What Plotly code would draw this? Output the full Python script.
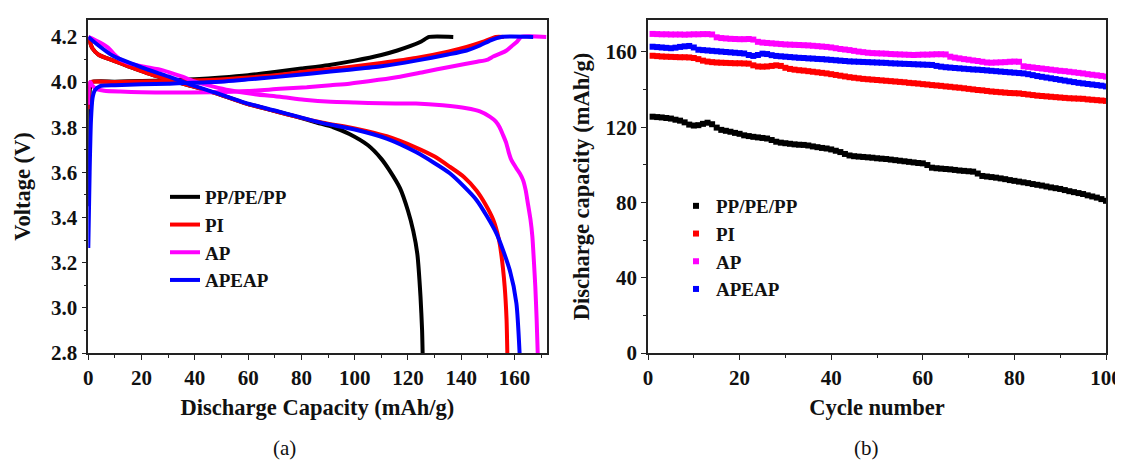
import plotly.graph_objects as go

# ---- (a) charge / discharge curves ----
# PP/PE/PP
pp_chg_cap = [0, 0.3, 0.6, 1.2, 10, 20, 30, 40, 50, 60, 70, 80, 90, 100, 110, 116, 121, 125, 128, 137]
pp_chg_v = [3.45, 3.85, 3.97, 4.0, 4.002, 4.005, 4.008, 4.013, 4.02, 4.03, 4.045, 4.06, 4.075, 4.095, 4.12, 4.14, 4.16, 4.18, 4.2, 4.2]
pp_dis_cap = [0, 0.5, 1.5, 4, 9.4, 15, 22, 30, 38, 48, 59, 70, 78, 86, 92, 98, 105, 110, 113, 117, 120, 122, 123.5, 124.7, 125.3, 125.5]
pp_dis_v = [4.2, 4.18, 4.15, 4.12, 4.095, 4.07, 4.04, 4.012, 3.985, 3.95, 3.906, 3.872, 3.847, 3.82, 3.80, 3.77, 3.72, 3.66, 3.61, 3.53, 3.43, 3.34, 3.24, 3.05, 2.90, 2.80]

# PI
pi_chg_cap = [0, 0.3, 0.8, 10, 30, 47, 60, 70, 84, 98, 110, 123, 135, 142, 148, 153, 156]
pi_chg_v = [3.88, 3.98, 4.0, 4.0, 4.005, 4.01, 4.02, 4.03, 4.05, 4.067, 4.085, 4.107, 4.135, 4.156, 4.178, 4.2, 4.2]
pi_dis_cap = [0, 0.5, 1.5, 4, 9.4, 15, 22, 30, 38, 48, 59, 70, 78, 88, 100, 112, 123, 130, 135.7, 141, 145.7, 149, 152, 154, 155, 156.3, 157, 157.3]
pi_dis_v = [4.2, 4.18, 4.15, 4.12, 4.095, 4.07, 4.04, 4.012, 3.985, 3.95, 3.906, 3.872, 3.847, 3.82, 3.795, 3.76, 3.71, 3.67, 3.625, 3.58, 3.52, 3.46, 3.39, 3.31, 3.24, 3.094, 2.95, 2.80]

# AP
ap_chg_cap = [0, 0.3, 0.8, 1.5, 3, 6, 12, 20, 30, 47, 60, 72, 82, 91, 98, 109, 117, 126, 136, 146, 150, 152, 155, 157, 159, 161, 162.5, 172]
ap_chg_v = [3.90, 3.99, 4.0, 3.985, 3.97, 3.962, 3.958, 3.955, 3.954, 3.955, 3.96, 3.97, 3.977, 3.986, 3.993, 4.01, 4.024, 4.045, 4.068, 4.09, 4.1, 4.113, 4.128, 4.14, 4.16, 4.18, 4.2, 4.2]
ap_dis_cap = [0, 2, 4.4, 6.5, 8.1, 10, 12, 15.6, 20, 28, 35, 40.6, 47, 53, 62, 72, 81, 91, 100, 110, 123, 133, 142, 147, 150.7, 153, 154.4, 155.7, 156.9, 157.8, 158.8, 160.7, 162, 163.2, 164.2, 165, 166, 166.7, 167.3, 167.8, 168.3, 168.7]
ap_dis_v = [4.2, 4.19, 4.175, 4.16, 4.145, 4.12, 4.10, 4.083, 4.07, 4.052, 4.025, 4.0, 3.98, 3.964, 3.947, 3.935, 3.922, 3.913, 3.91, 3.906, 3.905, 3.897, 3.884, 3.87, 3.847, 3.825, 3.80, 3.765, 3.73, 3.69, 3.655, 3.618, 3.595, 3.566, 3.52, 3.463, 3.39, 3.315, 3.2, 3.094, 2.95, 2.80]

# APEAP
apeap_chg_cap = [0, 0.5, 1.0, 1.6, 2.5, 4.4, 10, 20, 30, 47, 60, 70, 84, 98, 110, 123, 135, 142, 147, 151, 155, 167]
apeap_chg_v = [3.265, 3.6, 3.83, 3.93, 3.964, 3.982, 3.986, 3.99, 3.993, 4.0, 4.012, 4.022, 4.038, 4.055, 4.07, 4.095, 4.122, 4.14, 4.162, 4.185, 4.2, 4.2]
apeap_dis_cap = [0, 3, 9.4, 20, 30, 38, 48, 59, 70, 78, 88, 100, 112, 123, 135.7, 145.7, 153.2, 158.2, 160.7, 161.9]
apeap_dis_v = [4.2, 4.17, 4.115, 4.065, 4.025, 3.99, 3.952, 3.908, 3.874, 3.849, 3.818, 3.79, 3.75, 3.69, 3.596, 3.478, 3.33, 3.167, 3.02, 2.80]

# ---- (b) cycling ----
cycles = list(range(1, 101))
pp_cyc = [125.6, 125.4, 125.2, 124.9, 124.6, 124.0, 123.5, 122.6, 121.4, 120.9,
          121.1, 121.8, 122.4, 121.6, 119.8, 118.6, 118.1, 117.6, 117.0, 116.5,
          115.7, 115.3, 114.9, 114.6, 114.3, 114.0, 113.2, 112.3, 111.8, 111.5,
          111.2, 110.9, 110.7, 110.6, 110.3, 109.8, 109.4, 109.0, 108.7, 108.2,
          107.5, 106.8, 105.8, 105.0, 104.6, 104.4, 104.2, 104.0, 103.8, 103.5,
          103.3, 103.1, 102.8, 102.5, 102.2, 101.9, 101.6, 101.3, 101.0, 100.8,
          99.9, 98.5, 98.2, 98.0, 97.8, 97.6, 97.3, 97.0, 96.8, 96.6,
          96.4, 95.4, 94.1, 93.8, 93.5, 93.2, 92.8, 92.4, 91.9, 91.5,
          91.1, 90.7, 90.3, 89.8, 89.4, 89.0, 88.5, 88.0, 87.6, 87.2,
          86.6, 86.0, 85.5, 85.0, 84.5, 83.8, 83.2, 82.6, 81.8, 80.9]
pi_cyc = [158.0, 157.8, 157.6, 157.5, 157.4, 157.3, 157.2, 157.2, 157.1, 156.8,
          156.2, 155.4, 154.9, 154.6, 154.4, 154.3, 154.2, 154.1, 154.0, 154.0,
          153.9, 153.8, 152.9, 152.3, 152.2, 152.3, 152.6, 152.9, 152.6, 151.6,
          151.0, 150.6, 150.3, 150.1, 149.8, 149.5, 149.2, 148.9, 148.6, 148.2,
          147.8, 147.4, 147.0, 146.6, 146.3, 146.0, 145.7, 145.5, 145.3, 145.1,
          144.9, 144.7, 144.5, 144.3, 144.1, 143.9, 143.6, 143.4, 143.2, 142.9,
          142.7, 142.4, 142.2, 142.0, 141.7, 141.5, 141.2, 141.0, 140.7, 140.4,
          140.1, 139.8, 139.6, 139.3, 139.0, 138.8, 138.6, 138.4, 138.2, 138.1,
          138.0, 137.7, 137.4, 137.1, 136.8, 136.6, 136.4, 136.2, 136.0, 135.8,
          135.6, 135.4, 135.3, 135.2, 135.1, 134.8, 134.6, 134.4, 134.2, 134.0]
ap_cyc = [169.6, 169.5, 169.4, 169.4, 169.3, 169.3, 169.3, 169.2, 169.3, 169.4,
          169.4, 169.5, 169.5, 169.3, 167.8, 167.4, 167.2, 167.0, 166.9, 166.8,
          166.8, 166.9, 166.6, 165.4, 165.0, 164.8, 164.6, 164.4, 164.2, 164.0,
          163.9, 163.8, 163.7, 163.6, 163.5, 163.3, 163.1, 162.9, 162.7, 162.4,
          162.0, 161.6, 161.3, 161.0, 160.6, 160.2, 159.9, 159.6, 159.4, 159.3,
          159.2, 159.1, 158.9, 158.8, 158.7, 158.6, 158.5, 158.4, 158.5, 158.6,
          158.6, 158.7, 158.8, 158.8, 158.7, 157.5, 157.0, 156.6, 156.2, 155.9,
          155.5, 155.2, 154.8, 154.4, 154.3, 154.4, 154.5, 154.6, 154.8, 154.9,
          154.8, 152.4, 152.1, 151.8, 151.5, 151.2, 150.9, 150.6, 150.3, 150.0,
          149.8, 149.5, 149.2, 148.9, 148.6, 148.2, 147.9, 147.6, 147.3, 146.9]
apeap_cyc = [162.8, 162.6, 162.4, 162.2, 162.0, 162.3, 162.7, 163.0, 163.2, 162.4,
             161.2, 161.0, 160.8, 160.6, 160.4, 160.2, 160.0, 159.8, 159.6, 159.4,
             159.2, 158.4, 157.9, 158.4, 159.1, 158.9, 158.3, 157.9, 157.7, 157.5,
             157.3, 157.1, 156.9, 156.8, 156.6, 156.5, 156.3, 156.2, 156.0, 155.8,
             155.6, 155.4, 155.2, 155.0, 154.9, 154.8, 154.7, 154.6, 154.5, 154.4,
             154.3, 154.2, 154.0, 153.9, 153.8, 153.7, 153.6, 153.5, 153.4, 153.3,
             153.2, 153.1, 152.6, 152.2, 151.9, 151.7, 151.5, 151.3, 151.1, 150.9,
             150.7, 150.6, 150.4, 150.2, 150.0, 149.8, 149.6, 149.4, 149.2, 149.0,
             148.8, 148.6, 148.2, 147.7, 147.2, 146.8, 146.4, 146.0, 145.6, 145.2,
             144.8, 144.4, 144.0, 143.6, 143.3, 143.0, 142.7, 142.4, 142.1, 141.7]

names = ["PP/PE/PP", "PI", "AP", "APEAP"]
colors = ["#000000", "#FF0000", "#FF00FF", "#0000FF"]

FONT = "Liberation Serif, Times New Roman, serif"

charge = [(pp_chg_cap, pp_chg_v), (pi_chg_cap, pi_chg_v), (ap_chg_cap, ap_chg_v), (apeap_chg_cap, apeap_chg_v)]
discharge = [(pp_dis_cap, pp_dis_v), (pi_dis_cap, pi_dis_v), (ap_dis_cap, ap_dis_v), (apeap_dis_cap, apeap_dis_v)]
cyc_data = [pp_cyc, pi_cyc, ap_cyc, apeap_cyc]

fig = go.Figure()

for i in range(4):
    fig.add_trace(go.Scatter(x=charge[i][0], y=charge[i][1], mode="lines", name=names[i],
                             line=dict(color=colors[i], width=4, shape="spline", smoothing=0.6),
                             showlegend=False, xaxis="x", yaxis="y"))
    fig.add_trace(go.Scatter(x=discharge[i][0], y=discharge[i][1], mode="lines", name=names[i],
                             line=dict(color=colors[i], width=4, shape="spline", smoothing=0.6),
                             showlegend=True, legend="legend", xaxis="x", yaxis="y"))

for i in range(4):
    fig.add_trace(go.Scatter(x=cycles, y=cyc_data[i], mode="markers", name=names[i],
                             marker=dict(symbol="square", size=6, color=colors[i], line=dict(width=0)),
                             legend="legend2", xaxis="x2", yaxis="y2"))

# the page body has an 8px margin, so the figure starts at (8, 8)
OFF = 8
W, H = 1123 - OFF, 461 - OFF
def px_x(p):
    return (p - OFF) / W
def px_y(p):
    return 1 - (p - OFF) / H

axis_common = dict(
    showline=True, linecolor="#222", linewidth=1.5, mirror=True,
    ticks="outside", ticklen=5, tickwidth=1.3, tickcolor="#222",
    showgrid=False, zeroline=False, automargin=False,
    tickfont=dict(family=FONT, size=21, color="#111", weight="bold"),
)
title_font = dict(family=FONT, size=22.5, color="#111", weight="bold")
legend_font = dict(family=FONT, size=19, color="#111", weight="bold")

fig.update_layout(
    width=W, height=H,
    margin=dict(l=0, r=0, t=0, b=0),
    paper_bgcolor="white", plot_bgcolor="white",
    xaxis=dict(domain=[px_x(88.3), px_x(546.5)], range=[0, 172], dtick=20,
               minor=dict(dtick=10, ticks="outside", ticklen=3, tickcolor="#222"),
               title=dict(text="Discharge Capacity (mAh/g)", standoff=10, font=title_font),
               anchor="y", **axis_common),
    yaxis=dict(domain=[px_y(353), px_y(20)], range=[2.8, 4.275], dtick=0.2, tickformat=".1f",
               minor=dict(dtick=0.1, ticks="outside", ticklen=3, tickcolor="#222"),
               title=dict(text="Voltage (V)", standoff=14, font=title_font),
               anchor="x", **axis_common),
    xaxis2=dict(domain=[px_x(648), px_x(1106)], range=[0, 100], dtick=20,
                minor=dict(dtick=10, ticks="outside", ticklen=3, tickcolor="#222"),
                title=dict(text="Cycle number", standoff=10, font=title_font),
                anchor="y2", **axis_common),
    yaxis2=dict(domain=[px_y(353), px_y(20)], range=[0, 177], dtick=40,
                minor=dict(dtick=20, ticks="outside", ticklen=3, tickcolor="#222"),
                title=dict(text="Discharge capacity (mAh/g)", standoff=10, font=title_font),
                anchor="x2", **axis_common),
    legend=dict(x=px_x(165), y=px_y(178), xanchor="left", yanchor="top",
                tracegroupgap=0, bgcolor="rgba(0,0,0,0)", borderwidth=0, font=legend_font),
    legend2=dict(x=px_x(676), y=px_y(187), xanchor="left", yanchor="top",
                 tracegroupgap=0, bgcolor="rgba(0,0,0,0)", borderwidth=0, font=legend_font),
    annotations=[
        dict(text="(a)", x=px_x(284), y=px_y(448), xref="paper", yref="paper",
             xanchor="center", yanchor="middle",
             showarrow=False, font=dict(family=FONT, size=21, color="#111")),
        dict(text="(b)", x=px_x(866), y=px_y(448), xref="paper", yref="paper",
             xanchor="center", yanchor="middle",
             showarrow=False, font=dict(family=FONT, size=21, color="#111")),
    ],
)

fig.write_html("out.html")
